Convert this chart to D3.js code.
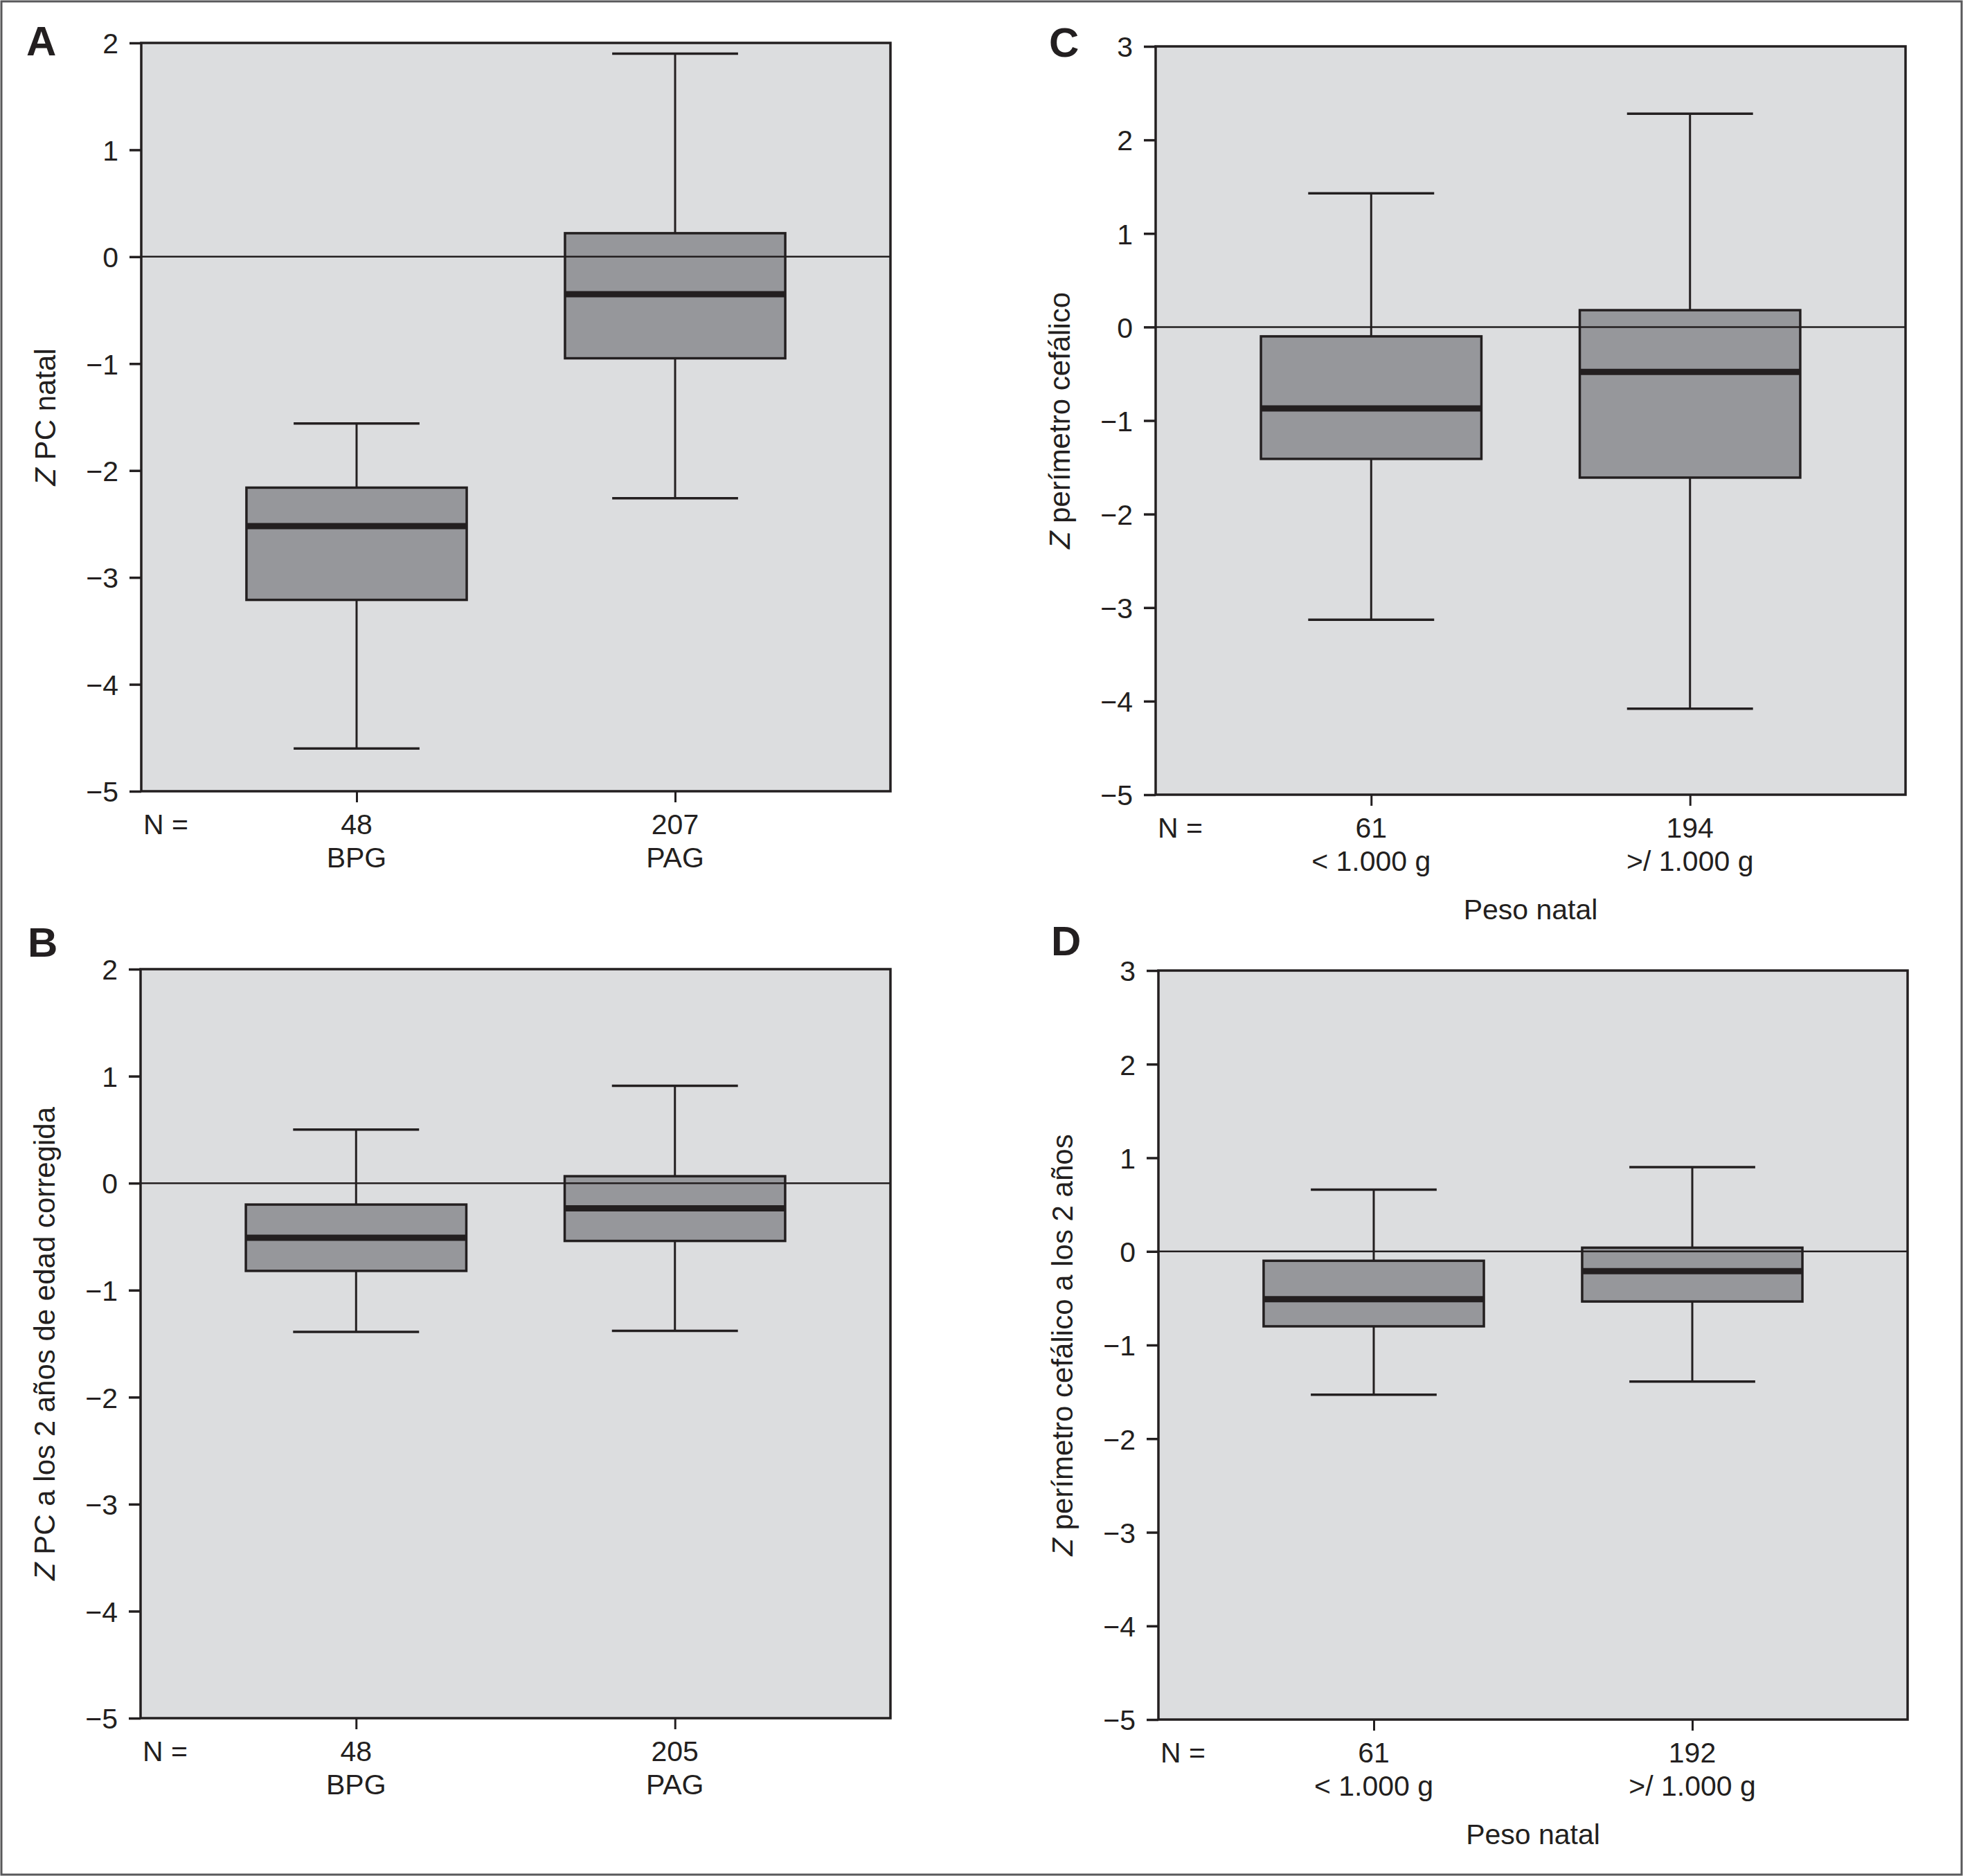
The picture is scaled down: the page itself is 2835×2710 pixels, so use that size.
<!DOCTYPE html>
<html>
<head>
<meta charset="utf-8">
<script src="https://cdn.jsdelivr.net/npm/d3@7"></script>
<style>
  html, body { margin: 0; padding: 0; background: #fff; }
  text { font-family: "Liberation Sans", Arial, Helvetica, sans-serif; fill: #231f20; }
</style>
</head>
<body>
<script>
// ---------------- data ----------------
const catsAB = ["BPG", "PAG"];
const catsCD = ["< 1.000 g", ">/ 1.000 g"];

const nA = [48, 207];
const lowA = [-4.60, -2.26];
const q1A = [-3.21, -0.95];
const medA = [-2.52, -0.35];
const q3A = [-2.16, 0.22];
const highA = [-1.56, 1.90];

const nB = [48, 205];
const lowB = [-1.39, -1.38];
const q1B = [-0.82, -0.54];
const medB = [-0.51, -0.235];
const q3B = [-0.20, 0.065];
const highB = [0.50, 0.91];

const nC = [61, 194];
const lowC = [-3.13, -4.08];
const q1C = [-1.41, -1.61];
const medC = [-0.87, -0.48];
const q3C = [-0.10, 0.18];
const highC = [1.43, 2.28];

const nD = [61, 192];
const lowD = [-1.53, -1.39];
const q1D = [-0.80, -0.535];
const medD = [-0.51, -0.21];
const q3D = [-0.10, 0.04];
const highD = [0.66, 0.90];

const ticksAB = [-5, -4, -3, -2, -1, 0, 1, 2];
const ticksCD = [-5, -4, -3, -2, -1, 0, 1, 2, 3];

const yLabelA = "PC natal";
const yLabelB = "PC a los 2 años de edad corregida";
const yLabelC = "perímetro cefálico";
const yLabelD = "perímetro cefálico a los 2 años";
const xTitleCD = "Peso natal";

// ---------------- drawing ----------------
const W = 2835, H = 2710;
const INK = "#231f20";
const svg = d3.select("body").append("svg").attr("width", W).attr("height", H);
svg.append("rect").attr("x", 0).attr("y", 0).attr("width", W).attr("height", H).attr("fill", "#fff");
svg.append("rect").attr("x", 2).attr("y", 2).attr("width", W - 4).attr("height", H - 4)
  .attr("fill", "none").attr("stroke", "#58585a").attr("stroke-width", 3);

const panels = [
  { letter: "A", lx: 38, ly: 80, box: [204, 62, 1286, 1143], dom: [-5, 2], ticks: ticksAB, cats: catsAB,
    n: nA, low: lowA, q1: q1A, med: medA, q3: q3A, high: highA, ylab: yLabelA, xtitle: null },
  { letter: "B", lx: 40, ly: 1382, box: [203, 1400, 1286, 2482], dom: [-5, 2], ticks: ticksAB, cats: catsAB,
    n: nB, low: lowB, q1: q1B, med: medB, q3: q3B, high: highB, ylab: yLabelB, xtitle: null },
  { letter: "C", lx: 1515, ly: 82, box: [1669, 67, 2752, 1148], dom: [-5, 3], ticks: ticksCD, cats: catsCD,
    n: nC, low: lowC, q1: q1C, med: medC, q3: q3C, high: highC, ylab: yLabelC, xtitle: xTitleCD },
  { letter: "D", lx: 1518, ly: 1380, box: [1673, 1402, 2755, 2484], dom: [-5, 3], ticks: ticksCD, cats: catsCD,
    n: nD, low: lowD, q1: q1D, med: medD, q3: q3D, high: highD, ylab: yLabelD, xtitle: xTitleCD }
];

panels.forEach(p => {
  const [x0, y0, x1, y1] = p.box;
  const g = svg.append("g");
  const y = d3.scaleLinear().domain(p.dom).range([y1, y0]);
  const x = d3.scalePoint().domain(p.cats).range([x0, x1]).padding(0.676);
  const pw = x1 - x0;
  const boxW = pw * 0.294;
  const capW = pw * 0.168;

  // panel letter
  g.append("text").attr("x", p.lx).attr("y", p.ly).attr("font-size", 60).attr("font-weight", "bold")
    .text(p.letter);

  // plot background
  g.append("rect").attr("x", x0).attr("y", y0).attr("width", pw).attr("height", y1 - y0)
    .attr("fill", "#dcdddf");

  // boxes
  p.cats.forEach((c, i) => {
    const cx = x(c);
    // whiskers
    g.append("line").attr("x1", cx).attr("x2", cx).attr("y1", y(p.q3[i])).attr("y2", y(p.high[i]))
      .attr("stroke", INK).attr("stroke-width", 3);
    g.append("line").attr("x1", cx).attr("x2", cx).attr("y1", y(p.q1[i])).attr("y2", y(p.low[i]))
      .attr("stroke", INK).attr("stroke-width", 3);
    [p.high[i], p.low[i]].forEach(v => {
      g.append("line").attr("x1", cx - capW / 2).attr("x2", cx + capW / 2).attr("y1", y(v)).attr("y2", y(v))
        .attr("stroke", INK).attr("stroke-width", 3.5);
    });
    g.append("rect").attr("x", cx - boxW / 2).attr("y", y(p.q3[i])).attr("width", boxW)
      .attr("height", y(p.q1[i]) - y(p.q3[i])).attr("fill", "#96979b").attr("stroke", INK).attr("stroke-width", 3.5);
    g.append("line").attr("x1", cx - boxW / 2).attr("x2", cx + boxW / 2).attr("y1", y(p.med[i])).attr("y2", y(p.med[i]))
      .attr("stroke", INK).attr("stroke-width", 9);
  });

  // zero reference line
  g.append("line").attr("x1", x0).attr("x2", x1).attr("y1", y(0)).attr("y2", y(0))
    .attr("stroke", INK).attr("stroke-width", 2.5);

  // frame
  g.append("rect").attr("x", x0).attr("y", y0).attr("width", pw).attr("height", y1 - y0)
    .attr("fill", "none").attr("stroke", INK).attr("stroke-width", 3.5);

  // y axis
  const ya = g.append("g").attr("transform", `translate(${x0},0)`)
    .call(d3.axisLeft(y).tickValues(p.ticks).tickSize(17).tickPadding(16).tickFormat(d3.format("d")));
  ya.select(".domain").remove();
  ya.selectAll(".tick line").attr("stroke", INK).attr("stroke-width", 3.5);
  ya.selectAll(".tick text").attr("font-size", 41).attr("font-family", "Liberation Sans, Arial, sans-serif")
    .attr("fill", INK).attr("dy", "0.36em");

  // x axis (ticks only)
  const xa = g.append("g").attr("transform", `translate(0,${y1})`)
    .call(d3.axisBottom(x).tickSize(16).tickFormat(""));
  xa.select(".domain").remove();
  xa.selectAll(".tick line").attr("stroke", INK).attr("stroke-width", 3);

  // N = row and category names
  g.append("text").attr("x", x0 + 3).attr("y", y1 + 62).attr("font-size", 41).text("N =");
  p.cats.forEach((c, i) => {
    g.append("text").attr("x", x(c)).attr("y", y1 + 62).attr("font-size", 41).attr("text-anchor", "middle").text(p.n[i]);
    g.append("text").attr("x", x(c)).attr("y", y1 + 110).attr("font-size", 41).attr("text-anchor", "middle").text(c);
  });
  if (p.xtitle) {
    g.append("text").attr("x", (x0 + x1) / 2).attr("y", y1 + 180).attr("font-size", 41)
      .attr("text-anchor", "middle").text(p.xtitle);
  }

  // y-axis label
  const yl = g.append("text").attr("transform", `translate(${x0 - 124},${(y0 + y1) / 2}) rotate(-90)`)
    .attr("font-size", 42).attr("text-anchor", "middle");
  yl.append("tspan").attr("font-style", "italic").text("Z");
  yl.append("tspan").text(" " + p.ylab);
});
</script>
</body>
</html>
